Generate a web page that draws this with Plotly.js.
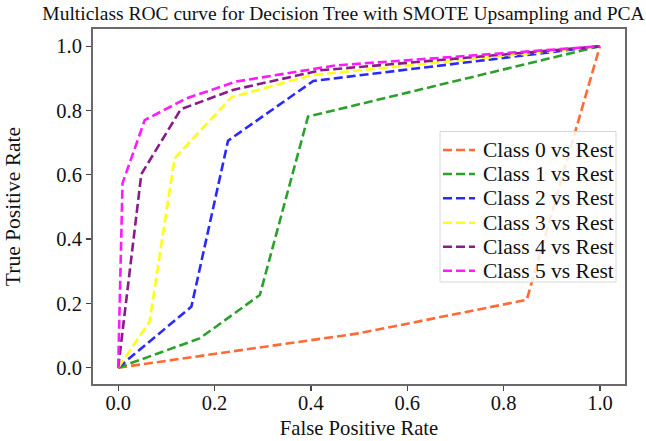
<!DOCTYPE html>
<html>
<head>
<meta charset="utf-8">
<script src="https://cdn.plot.ly/plotly-3.0.1.min.js"></script>
<style>html,body{margin:0;padding:0;background:#fff;}#chart{width:646px;height:441px;}</style>
</head>
<body>
<div id="chart"></div>
<script>
// Class labels
const classNames = ["Class 0 vs Rest", "Class 1 vs Rest", "Class 2 vs Rest", "Class 3 vs Rest", "Class 4 vs Rest", "Class 5 vs Rest"];
// ROC points (false positive rate / true positive rate) per class
const fpr0 = [0, 0.2, 0.5, 0.848, 1];
const tpr0 = [0, 0.043, 0.107, 0.211, 1];
const fpr1 = [0, 0.169, 0.294, 0.394, 1];
const tpr1 = [0, 0.091, 0.226, 0.781, 1];
const fpr2 = [0, 0.152, 0.228, 0.405, 1];
const tpr2 = [0, 0.19, 0.706, 0.892, 1];
const fpr3 = [0, 0.065, 0.117, 0.235, 0.401, 1];
const tpr3 = [0, 0.143, 0.651, 0.841, 0.910, 1];
const fpr4 = [0, 0.048, 0.13, 0.238, 0.42, 1];
const tpr4 = [0, 0.602, 0.804, 0.864, 0.925, 1];
const fpr5 = [0, 0.009, 0.055, 0.142, 0.245, 0.45, 1];
const tpr5 = [0, 0.574, 0.770, 0.838, 0.89, 0.94, 1];
// Axis ticks
const tickVals = [0, 0.2, 0.4, 0.6, 0.8, 1.0];
const tickText = ["0.0", "0.2", "0.4", "0.6", "0.8", "1.0"];

const colors = ["#ff6a35", "#2ca02c", "#2a2aff", "#ffff1a", "#8b1a8b", "#ff1aff"];
const fprs = [fpr0, fpr1, fpr2, fpr3, fpr4, fpr5];
const tprs = [tpr0, tpr1, tpr2, tpr3, tpr4, tpr5];
const DASH = "9px,4px";
const FONT = "'Liberation Serif', 'Times New Roman', Times, serif";

const traces = classNames.map((n, i) => ({
  x: fprs[i], y: tprs[i], type: "scatter", mode: "lines", name: n,
  line: {color: colors[i], width: 2.6, dash: DASH},
  showlegend: false, hoverinfo: "skip"
}));

// manual legend (paper coords)
const L = 93, R = 625, T = 29, B = 384;
const px = v => (v - L) / (R - L);
const py = v => (B - v) / (B - T);
const shapes = [{
  type: "rect", xref: "paper", yref: "paper", layer: "above",
  x0: px(440), x1: px(616), y0: py(282), y1: py(131.5),
  fillcolor: "rgba(255,255,255,0.85)", line: {color: "#d8d8d8", width: 1}
}];
const annotations = [];
const rowY = [150, 174, 198.3, 222.7, 246.7, 270.7];
classNames.forEach((n, i) => {
  shapes.push({
    type: "line", xref: "paper", yref: "paper", layer: "above",
    x0: px(443), x1: px(475), y0: py(rowY[i]), y1: py(rowY[i]),
    line: {color: colors[i], width: 2.6, dash: DASH}
  });
  annotations.push({
    xref: "paper", yref: "paper", x: px(481), y: py(rowY[i]),
    xanchor: "left", yanchor: "middle", showarrow: false, text: n,
    font: {family: FONT, size: 21.5, color: "#111"}
  });
});

const axisCommon = {
  showgrid: false, zeroline: false, showline: true, mirror: true,
  linecolor: "#6a6a6a", linewidth: 2, ticks: "outside", ticklen: 5,
  tickwidth: 1.3, tickcolor: "#444", tickvals: tickVals, ticktext: tickText,
  tickfont: {family: FONT, size: 20.5, color: "#111"}
};

const layout = {
  width: 646, height: 441,
  margin: {l: L, r: 646 - R, t: T, b: 441 - B},
  paper_bgcolor: "#fff", plot_bgcolor: "#fff",
  font: {family: FONT},
  title: {text: "Multiclass ROC curve for Decision Tree with SMOTE Upsampling and PCA",
    font: {family: FONT, size: 19.5, color: "#111"},
    xref: "container", yref: "container", x: 343.5 / 646, xanchor: "center",
    y: 1 - 13 / 441, yanchor: "middle"},
  xaxis: Object.assign({}, axisCommon, {range: [-0.0523, 1.052], ticklabelstandoff: -6,
    title: {text: "False Positive Rate", font: {family: FONT, size: 20.7, color: "#111"}, standoff: 8}}),
  yaxis: Object.assign({}, axisCommon, {range: [-0.0507, 1.0535],
    title: {text: "True Positive Rate", font: {family: FONT, size: 21.5, color: "#111"}, standoff: 30}}),
  shapes: shapes, annotations: annotations, showlegend: false
};

Plotly.newPlot("chart", traces, layout, {staticPlot: true, displayModeBar: false});
</script>
</body>
</html>
